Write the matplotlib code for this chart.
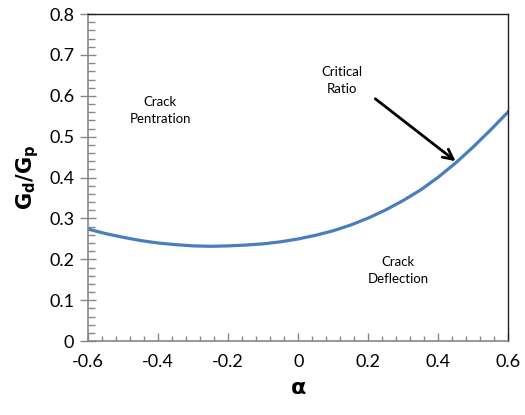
import numpy as np
import matplotlib
matplotlib.use('Agg')
import matplotlib.pyplot as plt
from matplotlib.ticker import MultipleLocator, FuncFormatter

# Dundurs alpha vs critical energy release rate ratio
alpha = [-0.60, -0.55, -0.50, -0.45, -0.40, -0.35, -0.30, -0.25, -0.20,
         -0.15, -0.10, -0.05, 0.00, 0.05, 0.10, 0.15, 0.20, 0.25, 0.30,
         0.35, 0.40, 0.45, 0.50, 0.55, 0.60]
g_ratio = [0.274, 0.263, 0.254, 0.246, 0.240, 0.236, 0.233, 0.232, 0.233,
           0.235, 0.238, 0.243, 0.250, 0.259, 0.270, 0.284, 0.301, 0.321, 0.344,
           0.370, 0.401, 0.436, 0.475, 0.517, 0.561]

plt.rcParams['font.family'] = ['Lato', 'DejaVu Sans']

fig = plt.figure(figsize=(5.25, 4.15), dpi=100)
ax = fig.add_axes([0.168, 0.178, 0.800, 0.788])

ax.plot(alpha, g_ratio, color='#4a7ebb', lw=2.3)

ax.set_xlim(-0.6, 0.6)
ax.set_ylim(0, 0.8)

ax.xaxis.set_major_locator(MultipleLocator(0.2))
ax.xaxis.set_minor_locator(MultipleLocator(0.04))
ax.yaxis.set_major_locator(MultipleLocator(0.1))
ax.yaxis.set_minor_locator(MultipleLocator(0.02))

fmt = FuncFormatter(lambda v, p: '0' if abs(v) < 1e-9 else ('%.1f' % v))
ax.xaxis.set_major_formatter(fmt)
ax.yaxis.set_major_formatter(fmt)

ax.tick_params(axis='y', which='major', direction='inout', length=12, width=1,
               color='#868686', labelsize=13, pad=4)
ax.tick_params(axis='y', which='minor', direction='in', length=5, width=1, color='#868686')
ax.tick_params(axis='x', which='major', direction='in', length=6, width=1,
               color='#868686', labelsize=13, pad=9)
ax.tick_params(axis='x', which='minor', direction='in', length=3.5, width=1, color='#868686')

for s in ['left', 'bottom']:
    ax.spines[s].set_color('#868686')
    ax.spines[s].set_linewidth(1.2)
for s in ['top', 'right']:
    ax.spines[s].set_color('#222222')
    ax.spines[s].set_linewidth(1.0)

ax.set_xlabel(r'$\mathbf{\alpha}$', fontsize=16, labelpad=6)
ax.set_ylabel(r'$\mathbf{G_d/G_p}$', fontsize=15, labelpad=6)

ax.text(-0.394, 0.565, 'Crack\nPentration', ha='center', va='center', fontsize=9.5, linespacing=1.5)
ax.text(0.126, 0.638, 'Critical\nRatio', ha='center', va='center', fontsize=9.5, linespacing=1.5)
ax.text(0.286, 0.174, 'Crack\nDeflection', ha='center', va='center', fontsize=9.5, linespacing=1.5)

ax.annotate('', xy=(0.456, 0.436), xytext=(0.214, 0.597),
            arrowprops=dict(arrowstyle='->', color='black', lw=2, mutation_scale=18))

fig.savefig('out.png', dpi=100)
